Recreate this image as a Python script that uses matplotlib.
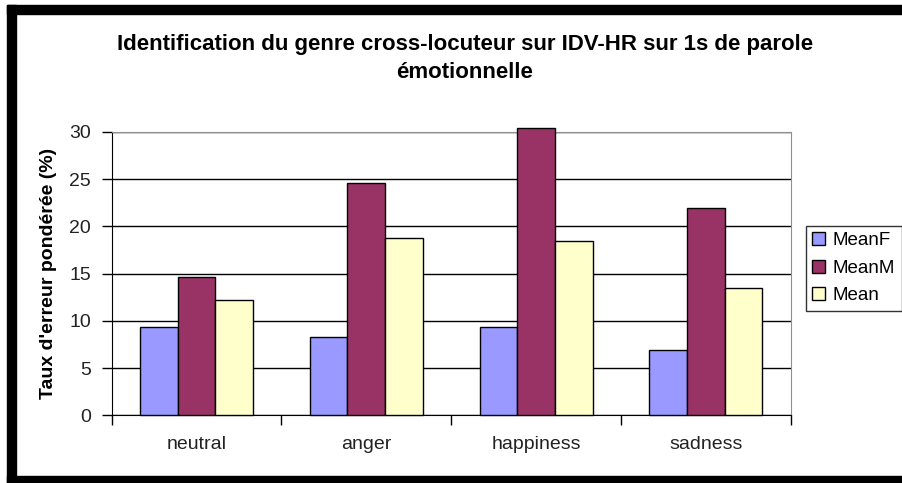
#!/usr/bin/env python3

import numpy as np
import matplotlib as mpl
mpl.use('Agg')
import matplotlib.pyplot as plt
from matplotlib.patches import Rectangle

plt.rcParams['font.family'] = ['Liberation Sans', 'DejaVu Sans']

# Data
emotions = ['neutral', 'anger', 'happiness', 'sadness']
mean_f = [9.35, 8.3, 9.35, 6.9]
mean_m = [14.6, 24.65, 30.4, 21.95]
mean_all = [12.25, 18.75, 18.45, 13.45]
series_names = ['MeanF', 'MeanM', 'Mean']
colors = ['#9999FF', '#993366', '#FFFFCC']
title_lines = ['Identification du genre cross-locuteur sur IDV-HR sur 1s de parole',
               'émotionnelle']
ylabel = "Taux d'erreur pondérée (%)"

W, H = 902, 483
fig = plt.figure(figsize=(W / 100, H / 100), dpi=100)
ax = fig.add_axes([111.7 / W, 1 - 415.3 / H, 679 / W, 283.3 / H])

x = np.arange(len(emotions))
bw = 0.222
for i, (vals, name, c) in enumerate(zip([mean_f, mean_m, mean_all], series_names, colors)):
    ax.bar(x + (i - 1) * bw, vals, bw, color=c, edgecolor='black', linewidth=1,
           label=name, clip_on=False, zorder=3)

ax.set_xlim(-0.5, 3.5)
ax.set_ylim(0, 30)
ax.set_yticks(range(0, 31, 5))
ax.set_xticks(x)
ax.set_xticklabels(emotions)
ax.set_xticks(np.arange(-0.5, 4, 1), minor=True)
ax.tick_params(axis='x', which='major', length=0, pad=15, labelsize=14, colors='#222222')
ax.tick_params(axis='x', which='minor', length=7, width=1, direction='out', color='black')
ax.tick_params(axis='y', length=7, width=1, pad=8, labelsize=14, colors='#222222')
ax.tick_params(axis='y', color='black')
ax.yaxis.grid(True, color='black', linewidth=1)
ax.set_axisbelow(True)

for s in ['left', 'bottom']:
    ax.spines[s].set_color('black')
for s in ['top', 'right']:
    ax.spines[s].set_color('#909090')
ax.spines['top'].set_zorder(2.6)

ax.set_ylabel(ylabel, fontsize=14, fontweight='bold')
ax.yaxis.set_label_coords(-0.08, 0.5)

fig.text(465 / W, 1 - 50 / H, title_lines[0], ha='center', va='baseline',
         fontsize=16, fontweight='bold')
fig.text(465 / W, 1 - 78 / H, title_lines[1], ha='center', va='baseline',
         fontsize=16, fontweight='bold')

leg = ax.legend(loc='upper left', bbox_to_anchor=(805.7 / W, 1 - 225.7 / H),
                bbox_transform=fig.transFigure, fontsize=13.5, frameon=True,
                fancybox=False, edgecolor='black', handlelength=0.7, handleheight=0.7,
                handletextpad=0.4, labelspacing=0.55, borderpad=0.35, borderaxespad=0)
leg.get_frame().set_linewidth(1)

# black frame around the picture (left, top, bottom)
fig.patches.append(Rectangle((7 / W, 0), 9 / W, 1 - 5 / H, transform=fig.transFigure,
                             color='black', zorder=10))
fig.patches.append(Rectangle((7 / W, 1 - 14 / H), 1, 9 / H, transform=fig.transFigure,
                             color='black', zorder=10))
fig.patches.append(Rectangle((7 / W, 0), 1, 7 / H, transform=fig.transFigure,
                             color='black', zorder=10))

fig.savefig('out.png', dpi=100)
